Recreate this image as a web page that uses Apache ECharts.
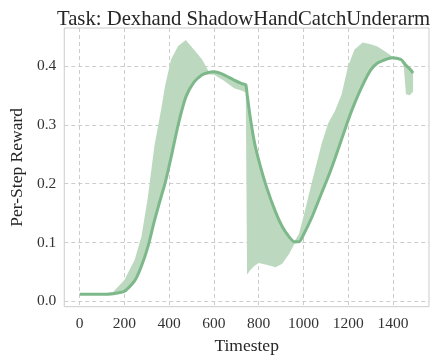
<!DOCTYPE html>
<html>
<head>
    <meta charset="utf-8" />
    <title>ShadowHandCatchUnderarm</title>
    <script src="https://cdn.jsdelivr.net/npm/echarts@6/dist/echarts.min.js"></script>
    <style>
        html, body { margin: 0; padding: 0; background: #fff; }
        #main { width: 439px; height: 361px; }
    </style>
</head>
<body>
    <div id="main"></div>
    <script type="text/javascript">
        // values
        var timesteps = [0, 50, 100, 150, 200, 246, 276, 305, 334, 364, 381, 408, 440, 474, 510, 547, 576, 600, 645, 690, 725, 742, 748, 760, 780, 800, 835, 875, 905, 935, 960, 980, 1000, 1040, 1082, 1111, 1140, 1170, 1199, 1228, 1265, 1300, 1331, 1375, 1400, 1435, 1448, 1458, 1475, 1490];
        var meanReward = [0.012, 0.012, 0.012, 0.013, 0.017, 0.035, 0.060, 0.093, 0.137, 0.178, 0.200, 0.244, 0.300, 0.347, 0.372, 0.385, 0.389, 0.390, 0.385, 0.376, 0.370, 0.368, 0.352, 0.318, 0.272, 0.240, 0.194, 0.152, 0.127, 0.110, 0.101, 0.101, 0.113, 0.145, 0.185, 0.212, 0.242, 0.275, 0.307, 0.336, 0.368, 0.393, 0.405, 0.412, 0.414, 0.411, 0.406, 0.401, 0.395, 0.388];
        var upperReward = [0.013, 0.013, 0.013, 0.016, 0.036, 0.071, 0.110, 0.178, 0.265, 0.326, 0.365, 0.411, 0.434, 0.444, 0.428, 0.411, 0.391, 0.391, 0.386, 0.377, 0.371, 0.369, 0.353, 0.319, 0.273, 0.241, 0.195, 0.153, 0.128, 0.111, 0.102, 0.115, 0.144, 0.206, 0.269, 0.303, 0.323, 0.351, 0.399, 0.428, 0.440, 0.437, 0.433, 0.422, 0.415, 0.412, 0.407, 0.402, 0.396, 0.389];
        var lowerReward = [0.011, 0.011, 0.011, 0.012, 0.016, 0.033, 0.058, 0.091, 0.135, 0.176, 0.198, 0.242, 0.298, 0.345, 0.370, 0.383, 0.386, 0.385, 0.375, 0.362, 0.358, 0.355, 0.045, 0.052, 0.060, 0.065, 0.062, 0.058, 0.064, 0.080, 0.098, 0.100, 0.111, 0.143, 0.183, 0.210, 0.240, 0.273, 0.305, 0.334, 0.366, 0.391, 0.403, 0.410, 0.412, 0.409, 0.400, 0.352, 0.350, 0.356];
        var xTicks = [0, 200, 400, 600, 800, 1000, 1200, 1400];
        var yTicks = [0, 0.1, 0.2, 0.3, 0.4];

        var lineColor = '#7db88a';
        var bandColor = '#bcd9bf';
        var serif = 'Liberation Serif';

        // band rows: [t, lower, upper]
        var bandData = timesteps.map(function (t, i) { return [t, lowerReward[i], upperReward[i]]; });
        var meanData = timesteps.map(function (t, i) { return [t, meanReward[i]]; });

        // whole band drawn as one polygon, coordinates from the axes
        function renderBand(params, api) {
            if (params.dataIndex !== 0) return;
            var top = [], bottom = [];
            for (var i = 0; i < bandData.length; i++) {
                top.push(api.coord([bandData[i][0], bandData[i][2]]));
                bottom.push(api.coord([bandData[i][0], bandData[i][1]]));
            }
            return {
                type: 'polygon',
                shape: { points: top.concat(bottom.reverse()) },
                style: { fill: bandColor },
                silent: true
            };
        }

        var myChart = echarts.init(document.getElementById('main'));

        var option = {
            animation: false,
            title: {
                text: 'Task: Dexhand ShadowHandCatchUnderarm',
                left: 52,
                top: 4,
                textStyle: { fontFamily: serif, fontSize: 20.7, fontWeight: 'normal', color: '#262626' }
            },
            grid: {
                left: 58.3, right: 10, top: 28, bottom: 54.3,
                show: true, borderColor: '#cccccc', borderWidth: 1
            },
            xAxis: {
                type: 'value',
                min: -69,
                max: 1561,
                name: 'Timestep',
                nameLocation: 'middle',
                nameGap: 31,
                nameTextStyle: { fontFamily: serif, fontSize: 17.5, color: '#262626' },
                axisLine: { show: false },
                axisTick: { show: false, customValues: xTicks },
                axisLabel: {
                    customValues: xTicks, margin: 9, fontFamily: serif, fontSize: 15.5, color: '#333',
                    formatter: function (v) { return String(v); }
                },
                splitLine: { show: true, lineStyle: { type: [4, 3], color: '#cccccc', width: 1 } }
            },
            yAxis: {
                type: 'value',
                min: -0.0092,
                max: 0.4645,
                name: 'Per-Step Reward',
                nameLocation: 'middle',
                nameGap: 38,
                nameTextStyle: { fontFamily: serif, fontSize: 17.5, color: '#262626' },
                axisLine: { show: false },
                axisTick: { show: false, customValues: yTicks },
                axisLabel: {
                    customValues: yTicks, margin: 8, fontFamily: serif, fontSize: 15.5, color: '#333',
                    formatter: function (v) { return v.toFixed(1); }
                },
                splitLine: { show: true, lineStyle: { type: [4, 3], color: '#cccccc', width: 1 } }
            },
            series: [
                {
                    name: 'band',
                    type: 'custom',
                    data: bandData,
                    encode: { x: 0, y: [1, 2] },
                    renderItem: renderBand,
                    silent: true
                },
                {
                    name: 'mean',
                    type: 'line',
                    data: meanData,
                    showSymbol: false,
                    smooth: 0.2,
                    lineStyle: { color: lineColor, width: 3 }
                }
            ]
        };

        myChart.setOption(option);
    </script>
</body>
</html>
